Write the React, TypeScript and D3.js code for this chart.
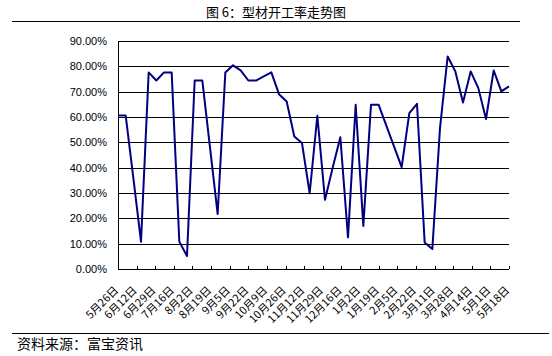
import React from "react";
import * as d3 from "d3";

const title = "图 6：型材开工率走势图";
const source = "资料来源：富宝资讯";
const startDate = new Date(2013, 4, 26);
const values: number[] = [
  60.6, 60.6, 36, 10.8, 77.6, 74.4, 77.6, 77.6, 10.8, 5.1,
  74.4, 74.4, 48, 21.7, 77.6, 80.4, 78.4, 74.4, 74.4, 76,
  77.6, 69, 66.1, 52.3, 49.7, 29.9, 60.5, 27.3, 40, 52.0,
  12.5, 64.8, 17, 64.8, 64.8, 56.6, 48.4, 40.2, 61.5, 65.2,
  10.5, 7.9, 55.6, 83.9, 78, 65.7, 78, 71.4, 59.2, 78.4,
  70.1, 72.1,
];
const tickLabels: string[] = [
  "5月26日", "6月12日", "6月29日", "7月16日", "8月2日", "8月19日", "9月5日",
  "9月22日", "10月9日", "10月26日", "11月12日", "11月29日", "12月16日", "1月2日",
  "1月19日", "2月5日", "2月22日", "3月11日", "3月28日", "4月14日", "5月1日", "5月18日",
];
const yTicks: number[] = [0, 10, 20, 30, 40, 50, 60, 70, 80, 90];

export default function App() {
  const W = 552, H = 356;
  const left = 118, right = 509, top = 41, bottom = 269;
  const dates = values.map((_, i) => d3.timeDay.offset(startDate, i * 7));
  const tickDates = tickLabels.map((_, i) => d3.timeDay.offset(startDate, i * 17));
  const x = d3.scaleTime().domain([startDate, tickDates[tickDates.length - 1]]).range([left, right]);
  const y = d3.scaleLinear().domain([0, 90]).range([bottom, top]);
  const line = d3.line<number>().x((_, i) => x(dates[i])).y((d) => y(d));
  const cjk = "'Noto Sans CJK SC', sans-serif";
  return (
    <svg width={W} height={H} style={{ position: "absolute", left: 0, top: 0, background: "#fff" }}>
      <rect width={W} height={H} fill="#fff" />
      <text x={276} y={17} textAnchor="middle" fontSize={13} fontFamily={cjk} fill="#000">{title}</text>
      <line x1={12} x2={520} y1={21.5} y2={21.5} stroke="#000" strokeWidth={1} />
      {yTicks.map((t) => (
        <g key={t}>
          <line x1={left} x2={right} y1={Math.round(y(t)) + 0.5} y2={Math.round(y(t)) + 0.5} stroke="#000" strokeWidth={1} />
          <text x={107} y={y(t)} dy="0.35em" textAnchor="end" fontSize={11} fontFamily="'Liberation Sans', sans-serif" fill="#000">
            {t.toFixed(2) + "%"}
          </text>
        </g>
      ))}
      <line x1={left + 0.5} x2={left + 0.5} y1={top} y2={bottom + 0.5} stroke="#000" strokeWidth={1} />
      {tickDates.map((d, i) => (
        <g key={i}>
          <line x1={Math.round(x(d)) + 0.5} x2={Math.round(x(d)) + 0.5} y1={bottom - 3} y2={bottom} stroke="#000" strokeWidth={1} />
          <text
            transform={`translate(${x(d) + 1},${bottom + 22}) rotate(-45)`}
            textAnchor="end"
            fontSize={11}
            fontFamily={cjk}
            fill="#000"
          >
            {tickLabels[i]}
          </text>
        </g>
      ))}
      <path d={line(values) || ""} fill="none" stroke="#000080" strokeWidth={2} strokeLinejoin="round" />
      <line x1={12} x2={549} y1={333.5} y2={333.5} stroke="#000" strokeWidth={1} />
      <text x={17} y={349} fontSize={14} fontFamily={cjk} fill="#000">{source}</text>
    </svg>
  );
}
